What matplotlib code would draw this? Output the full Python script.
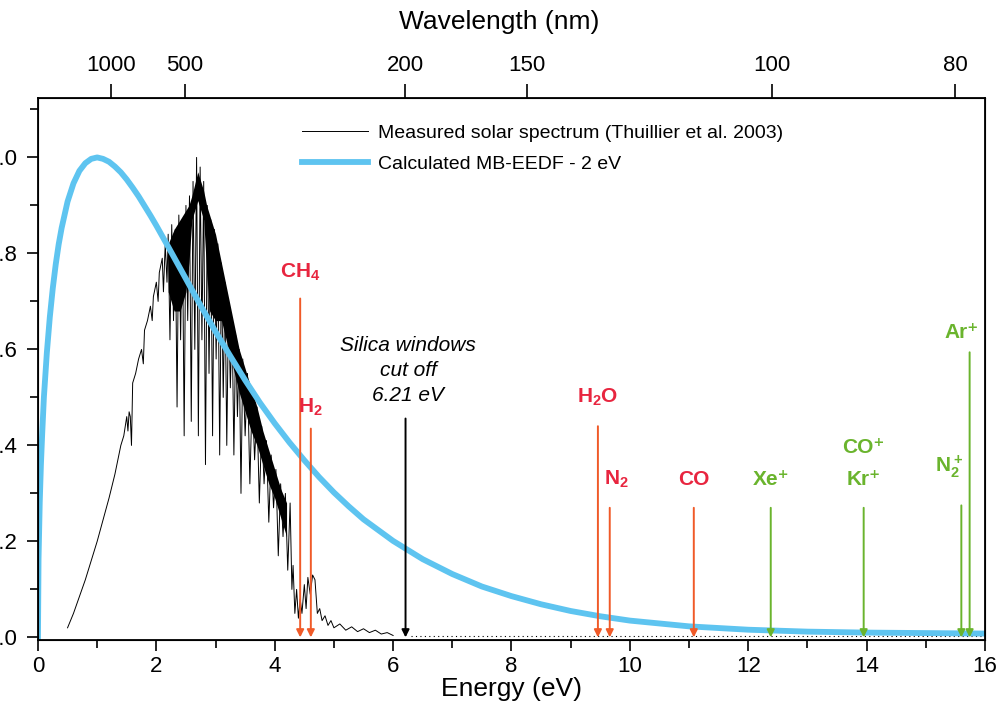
import matplotlib
matplotlib.use("Agg")
import matplotlib.pyplot as plt
from matplotlib.ticker import MultipleLocator

plt.rcParams['font.family'] = ['Liberation Sans', 'DejaVu Sans']
plt.rcParams['mathtext.fontset'] = 'custom'
plt.rcParams['mathtext.bf'] = 'Liberation Sans:bold'
plt.rcParams['mathtext.rm'] = 'Liberation Sans'

# calculated MB-EEDF (2 eV)
mb_e = [0, 0.01, 0.03, 0.05, 0.07, 0.1, 0.15, 0.2, 0.25, 0.3, 0.35, 0.4, 0.5, 0.6, 0.7,
        0.8, 0.9, 1.0, 1.1, 1.2, 1.3, 1.4, 1.5, 1.6, 1.7, 1.8, 1.9, 2.0, 2.2, 2.5, 2.75,
        3.0, 3.25, 3.5, 3.75, 4.0, 4.25, 4.5, 4.75, 5.0, 5.25, 5.5, 6.0, 6.5, 7.0, 7.5,
        8.0, 8.5, 9.0, 9.5, 10, 11, 12, 13, 14, 15, 16]
mb_y = [0, 0.164, 0.281, 0.36, 0.42, 0.50, 0.593, 0.667, 0.727, 0.777, 0.819, 0.853, 0.908,
        0.946, 0.972, 0.988, 0.997, 1.0, 0.997, 0.991, 0.981, 0.969, 0.954, 0.937, 0.919,
        0.899, 0.879, 0.858, 0.814, 0.747, 0.691, 0.637, 0.586, 0.536, 0.489, 0.446, 0.406,
        0.369, 0.334, 0.302, 0.273, 0.246, 0.201, 0.163, 0.132, 0.106, 0.086, 0.069, 0.055,
        0.044, 0.035, 0.023, 0.016, 0.012, 0.010, 0.009, 0.008]

# measured solar spectrum (Thuillier et al. 2003)
spectrum = [
    (0.50, 0.02), (0.60, 0.05), (0.70, 0.085), (0.80, 0.12), (0.90, 0.16), (1.00, 0.20),
    (1.10, 0.245), (1.20, 0.29), (1.30, 0.34), (1.40, 0.40), (1.45, 0.42), (1.50, 0.46),
    (1.52, 0.43), (1.54, 0.47), (1.56, 0.46), (1.58, 0.40), (1.60, 0.53), (1.65, 0.55),
    (1.70, 0.58), (1.75, 0.60), (1.78, 0.57), (1.80, 0.64), (1.85, 0.66), (1.90, 0.69),
    (1.93, 0.66), (1.95, 0.71), (2.00, 0.74), (2.03, 0.70), (2.05, 0.76), (2.10, 0.79),
    (2.12, 0.72), (2.15, 0.82), (2.18, 0.74), (2.20, 0.84), (2.23, 0.62), (2.26, 0.86),
    (2.29, 0.66), (2.32, 0.85), (2.35, 0.48), (2.38, 0.88), (2.41, 0.62), (2.44, 0.87),
    (2.47, 0.42), (2.50, 0.90), (2.53, 0.66), (2.56, 0.92), (2.59, 0.45), (2.62, 0.95),
    (2.65, 0.60), (2.68, 1.00), (2.71, 0.42), (2.74, 0.98), (2.77, 0.62), (2.80, 0.95),
    (2.83, 0.36), (2.86, 0.90), (2.89, 0.55), (2.92, 0.87), (2.95, 0.42), (2.98, 0.85),
    (3.01, 0.58), (3.04, 0.82), (3.07, 0.38), (3.10, 0.78), (3.13, 0.50), (3.16, 0.74),
    (3.19, 0.40), (3.22, 0.70), (3.25, 0.52), (3.28, 0.66), (3.31, 0.38), (3.34, 0.63),
    (3.37, 0.46), (3.40, 0.60), (3.43, 0.30), (3.46, 0.58), (3.50, 0.42), (3.54, 0.55),
    (3.58, 0.32), (3.62, 0.51), (3.66, 0.37), (3.70, 0.48), (3.74, 0.28), (3.78, 0.44),
    (3.82, 0.32), (3.86, 0.41), (3.90, 0.24), (3.94, 0.38), (3.98, 0.27), (4.02, 0.35),
    (4.06, 0.17), (4.10, 0.32), (4.14, 0.21), (4.18, 0.30), (4.22, 0.14), (4.26, 0.28),
    (4.29, 0.10), (4.31, 0.15), (4.34, 0.05), (4.37, 0.10), (4.40, 0.04), (4.43, 0.08),
    (4.46, 0.05), (4.50, 0.11), (4.53, 0.06), (4.56, 0.125), (4.60, 0.09), (4.64, 0.13),
    (4.68, 0.12), (4.72, 0.05), (4.76, 0.06), (4.80, 0.035), (4.85, 0.045), (4.90, 0.025),
    (4.95, 0.035), (5.00, 0.02), (5.10, 0.028), (5.20, 0.015), (5.30, 0.022), (5.40, 0.012),
    (5.50, 0.018), (5.60, 0.01), (5.70, 0.015), (5.80, 0.007), (5.90, 0.01), (6.00, 0.004)]
sp_e = [p[0] for p in spectrum]
sp_y = [p[1] for p in spectrum]

# dense core of the spectrum (solid black band)
core_e = [2.2, 2.3, 2.4, 2.5, 2.55, 2.6, 2.7, 2.8, 2.85, 2.9, 3.0, 3.1, 3.2, 3.3, 3.4,
          3.5, 3.6, 3.7, 3.8, 3.9, 4.0, 4.1, 4.2]
core_hi = [0.82, 0.85, 0.87, 0.89, 0.90, 0.92, 0.97, 0.93, 0.90, 0.88, 0.84, 0.78, 0.72,
           0.66, 0.60, 0.56, 0.52, 0.48, 0.43, 0.39, 0.35, 0.31, 0.28]
core_lo = [0.72, 0.68, 0.68, 0.72, 0.78, 0.87, 0.91, 0.87, 0.76, 0.68, 0.66, 0.66, 0.61,
           0.56, 0.51, 0.47, 0.43, 0.40, 0.36, 0.32, 0.29, 0.25, 0.21]

tail_e = [6.3, 16.0]
tail_y = [0.003, 0.003]

# wavelength ticks of the top axis
wl_ticks = [1000, 500, 200, 150, 100, 80]

# thresholds
red_names = [r'$\mathbf{CH_4}$', r'$\mathbf{H_2}$', r'$\mathbf{H_2O}$', r'$\mathbf{N_2}$', 'CO']
red_e = [4.43, 4.61, 9.46, 9.66, 11.08]
red_top = [0.706, 0.435, 0.44, 0.27, 0.27]
red_lab_x = [4.43, 4.61, 9.46, 9.78, 11.08]
red_lab_y = [0.76, 0.48, 0.50, 0.33, 0.33]

green_names = ['Xe⁺', 'Kr⁺', r'$\mathbf{N_2^+}$', 'Ar⁺']
green_e = [12.38, 13.95, 15.6, 15.74]
green_top = [0.27, 0.27, 0.275, 0.594]
green_lab_x = [12.38, 13.95, 15.4, 15.6]
green_lab_y = [0.33, 0.33, 0.355, 0.635]

fig = plt.figure(figsize=(9.99, 7.13), dpi=100)
ax = fig.add_axes([0.038, 0.102, 0.948, 0.760])

ax.fill_between(core_e, core_lo, core_hi, color='black', lw=0)
ax.plot(sp_e, sp_y, color='black', lw=0.7, label='Measured solar spectrum (Thuillier et al. 2003)')
ax.plot(tail_e, tail_y, color='black', lw=0.8, ls=(0, (1, 3)))
ax.plot(mb_e, mb_y, color='#5ec4f0', lw=4.2, label='Calculated MB-EEDF - 2 eV')

red_text = '#e8253f'
red_arrow = '#f05a28'
green = '#6ab42d'


def arrow(e, top, c):
    ax.annotate('', xy=(e, 0), xytext=(e, top),
                arrowprops=dict(arrowstyle='-|>', color=c, lw=1.4, mutation_scale=11,
                                shrinkA=0, shrinkB=0))


for name, e, top, lx, ly in zip(red_names, red_e, red_top, red_lab_x, red_lab_y):
    arrow(e, top, red_arrow)
    ax.text(lx, ly, name, color=red_text, fontsize=15, fontweight='bold', ha='center', va='center')
for name, e, top, lx, ly in zip(green_names, green_e, green_top, green_lab_x, green_lab_y):
    arrow(e, top, green)
    ax.text(lx, ly, name, color=green, fontsize=15, fontweight='bold', ha='center', va='center')
ax.text(13.95, 0.395, 'CO⁺', color=green, fontsize=15, fontweight='bold', ha='center', va='center')

# silica cut off
arrow(6.21, 0.456, 'black')
ax.text(6.25, 0.556, 'Silica windows\ncut off\n6.21 eV', fontsize=15, style='italic',
        ha='center', va='center', linespacing=1.4)

ax.set_xlim(0, 16)
ax.set_ylim(-0.006, 1.123)
ax.xaxis.set_major_locator(MultipleLocator(2))
ax.xaxis.set_minor_locator(MultipleLocator(1))
ax.yaxis.set_major_locator(MultipleLocator(0.2))
ax.yaxis.set_minor_locator(MultipleLocator(0.1))
ax.tick_params(axis='both', which='major', length=8, width=1.2, labelsize=16, pad=3)
ax.tick_params(axis='y', which='major', pad=7)
ax.tick_params(axis='both', which='minor', length=6, width=1.2)
ax.tick_params(top=False, right=False)
ax.set_yticklabels(['%.1f' % v for v in ax.get_yticks()])
ax.set_xlabel('Energy (eV)', fontsize=19, labelpad=0)
for s in ax.spines.values():
    s.set_linewidth(1.3)

ax2 = ax.twiny()
ax2.set_xlim(0, 16)
ax2.set_xticks([1240 / w for w in wl_ticks])
ax2.set_xticklabels([str(w) for w in wl_ticks])
ax2.tick_params(axis='x', length=10, width=1.2, labelsize=16, pad=6)
fig.text(0.5, 1 - 22 / 713, 'Wavelength (nm)', fontsize=19, ha='center', va='center')

ax.legend(loc='upper left', bbox_to_anchor=(0.26, 0.985), frameon=False,
          handlelength=3.4, handletextpad=0.5, labelspacing=0.7,
          prop={'family': 'Liberation Sans', 'size': 14})

fig.savefig('out.png', dpi=100)
